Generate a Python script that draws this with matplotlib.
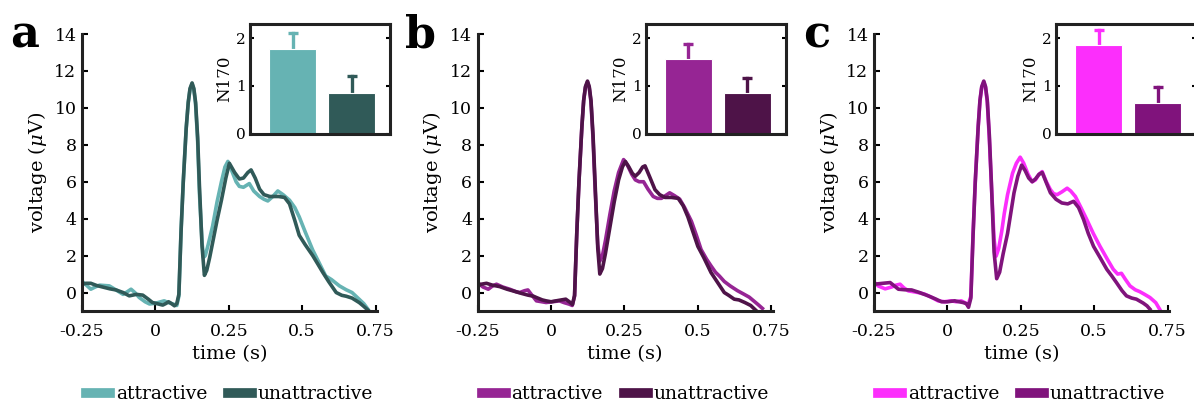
import matplotlib
matplotlib.use('Agg')
import matplotlib.pyplot as plt

plt.rcParams['font.family'] = 'DejaVu Serif'
plt.rcParams['mathtext.fontset'] = 'dejavuserif'
plt.rcParams['axes.unicode_minus'] = False

# ---- data ----
labels = ['attractive', 'unattractive']
panel_letters = ['a', 'b', 'c']

colors_a = ['#66b3b3', '#305a58']
colors_b = ['#962594', '#4e1348']
colors_c = ['#fc2efc', '#80137c']

# panel a, attractive
t_a_att = [-0.25, -0.235, -0.22, -0.205, -0.19, -0.157, -0.13, -0.11, -0.095, -0.083, -0.07, -0.055,
           -0.035, -0.02, 0.0, 0.03, 0.045, 0.06, 0.073, 0.08, 0.0875, 0.095, 0.105, 0.112, 0.118,
           0.125, 0.131, 0.137, 0.144, 0.15, 0.159, 0.164, 0.17, 0.18, 0.195, 0.21, 0.225, 0.237,
           0.247, 0.26, 0.275, 0.286, 0.3, 0.32, 0.335, 0.355, 0.37, 0.383, 0.4, 0.417, 0.435,
           0.457, 0.475, 0.49, 0.51, 0.536, 0.555, 0.58, 0.6, 0.627, 0.65, 0.67, 0.69, 0.71, 0.724]
v_a_att = [0.62, 0.4, 0.18, 0.3, 0.4, 0.36, 0.1, -0.1, 0.05, 0.18, 0.0, -0.27,
           -0.5, -0.62, -0.58, -0.45, -0.55, -0.62, -0.7, -0.2, 3.4, 6.0, 8.9, 10.3, 11.0,
           11.3, 11.0, 10.2, 8.2, 5.4, 2.7, 1.9, 2.0, 2.6, 3.6, 4.9, 6.0, 6.8,
           7.1, 6.6, 6.0, 5.75, 5.7, 5.9, 5.5, 5.2, 5.05, 4.96, 5.2, 5.5, 5.3,
           5.0, 4.6, 4.1, 3.3, 2.3, 1.7, 0.9, 0.7, 0.36, 0.15, 0.0, -0.3, -0.6, -0.9]

# panel a, unattractive
t_a_un = [-0.25, -0.235, -0.22, -0.2, -0.18, -0.155, -0.134, -0.11, -0.089, -0.065, -0.043, -0.025,
          -0.01, 0.01, 0.025, 0.035, 0.045, 0.055, 0.065, 0.073, 0.08, 0.0875, 0.095, 0.105, 0.112,
          0.118, 0.125, 0.131, 0.137, 0.144, 0.15, 0.159, 0.167, 0.175, 0.185, 0.195, 0.21, 0.225,
          0.24, 0.252, 0.27, 0.286, 0.3, 0.315, 0.326, 0.34, 0.355, 0.37, 0.39, 0.42, 0.44, 0.457,
          0.475, 0.49, 0.51, 0.536, 0.555, 0.57, 0.59, 0.616, 0.635, 0.65, 0.67, 0.695, 0.71, 0.724]
v_a_un = [0.45, 0.5, 0.5, 0.38, 0.3, 0.2, 0.14, 0.0, -0.18, -0.1, -0.14, -0.35,
          -0.54, -0.62, -0.68, -0.6, -0.5, -0.6, -0.72, -0.6, -0.1, 3.3, 6.0, 8.9, 10.3,
          11.05, 11.35, 11.05, 10.3, 8.4, 5.8, 2.5, 0.93, 1.2, 1.9, 2.7, 3.9, 5.0,
          6.2, 7.0, 6.5, 6.15, 6.2, 6.5, 6.64, 6.2, 5.6, 5.3, 5.2, 5.2, 5.15, 4.8,
          3.9, 3.1, 2.6, 2.0, 1.5, 1.1, 0.6, 0.0, -0.15, -0.2, -0.3, -0.55, -0.75, -0.95]

# panel b, attractive
t_b_att = [-0.25, -0.232, -0.214, -0.2, -0.186, -0.165, -0.141, -0.12, -0.107, -0.09, -0.079, -0.065,
           -0.05, -0.017, 0.005, 0.028, 0.045, 0.062, 0.072, 0.08, 0.0875, 0.095, 0.105, 0.111, 0.117,
           0.124, 0.13, 0.136, 0.143, 0.15, 0.159, 0.166, 0.175, 0.185, 0.2, 0.215, 0.23, 0.247,
           0.26, 0.275, 0.287, 0.3, 0.315, 0.33, 0.348, 0.362, 0.376, 0.39, 0.404, 0.42, 0.438,
           0.455, 0.478, 0.495, 0.511, 0.53, 0.545, 0.56, 0.573, 0.59, 0.61, 0.635, 0.657, 0.675,
           0.69, 0.705, 0.72]
v_b_att = [0.54, 0.3, 0.18, 0.35, 0.45, 0.3, 0.18, 0.05, 0.0, 0.1, 0.14, -0.15,
           -0.45, -0.54, -0.5, -0.45, -0.55, -0.63, -0.7, -0.2, 3.2, 6.0, 9.0, 10.4, 11.1,
           11.4, 11.1, 10.3, 8.3, 5.6, 2.6, 1.7, 2.0, 2.8, 4.2, 5.5, 6.5, 7.2,
           6.9, 6.4, 6.1, 6.0, 6.0, 5.6, 5.2, 5.1, 5.1, 5.25, 5.4, 5.25, 5.06,
           4.6, 3.86, 3.1, 2.33, 1.8, 1.44, 1.1, 0.9, 0.6, 0.36, 0.1, -0.09, -0.25,
           -0.45, -0.65, -0.86]

# panel b, unattractive
t_b_un = [-0.25, -0.238, -0.22, -0.2, -0.175, -0.15, -0.13, -0.1, -0.079, -0.06, -0.05, -0.03,
          -0.017, 0.0, 0.017, 0.035, 0.05, 0.062, 0.073, 0.08, 0.0875, 0.095, 0.105, 0.111, 0.117,
          0.124, 0.13, 0.136, 0.143, 0.15, 0.159, 0.166, 0.175, 0.185, 0.2, 0.215, 0.23, 0.243,
          0.253, 0.265, 0.277, 0.287, 0.3, 0.312, 0.32, 0.335, 0.354, 0.37, 0.388, 0.41, 0.433,
          0.45, 0.466, 0.483, 0.5, 0.52, 0.545, 0.565, 0.59, 0.605, 0.624, 0.64, 0.66, 0.68, 0.7]
v_b_un = [0.36, 0.45, 0.5, 0.4, 0.32, 0.18, 0.09, -0.05, -0.14, -0.2, -0.27, -0.4,
          -0.45, -0.5, -0.45, -0.4, -0.36, -0.5, -0.65, -0.15, 3.2, 6.0, 9.0, 10.4, 11.15,
          11.45, 11.15, 10.4, 8.5, 5.9, 2.4, 1.0, 1.3, 2.1, 3.5, 4.9, 6.1, 6.8,
          7.1, 6.8, 6.45, 6.3, 6.5, 6.8, 6.86, 6.3, 5.57, 5.3, 5.15, 5.15, 5.1,
          4.7, 4.1, 3.3, 2.5, 1.9, 1.08, 0.6, 0.0, -0.15, -0.36, -0.4, -0.54, -0.7, -1.0]

# panel c, attractive
t_c_att = [-0.25, -0.235, -0.212, -0.19, -0.175, -0.161, -0.148, -0.133, -0.1, -0.077, -0.055, -0.032,
           -0.01, 0.014, 0.03, 0.047, 0.06, 0.07, 0.08, 0.0875, 0.095, 0.105, 0.111, 0.117, 0.124,
           0.13, 0.136, 0.143, 0.15, 0.159, 0.166, 0.175, 0.185, 0.194, 0.205, 0.222, 0.235, 0.248,
           0.26, 0.275, 0.289, 0.3, 0.312, 0.323, 0.337, 0.351, 0.362, 0.374, 0.39, 0.408, 0.42,
           0.436, 0.455, 0.475, 0.497, 0.52, 0.545, 0.565, 0.58, 0.593, 0.607, 0.622, 0.64, 0.655,
           0.672, 0.69, 0.71, 0.723]
v_c_att = [0.57, 0.35, 0.2, 0.3, 0.4, 0.45, 0.25, 0.09, 0.0, -0.09, -0.25, -0.45,
           -0.5, -0.45, -0.5, -0.45, -0.55, -0.7, -0.2, 3.2, 6.0, 9.0, 10.4, 11.1, 11.4,
           11.1, 10.3, 8.3, 5.8, 2.9, 1.97, 2.4, 3.3, 4.3, 5.3, 6.46, 7.0, 7.33,
           7.0, 6.4, 6.0, 6.1, 6.4, 6.55, 6.0, 5.57, 5.35, 5.3, 5.45, 5.65, 5.5,
           5.2, 4.6, 3.95, 3.2, 2.5, 1.8, 1.26, 1.0, 1.04, 0.7, 0.36, 0.15, 0.05,
           -0.1, -0.27, -0.55, -0.9]

# panel c, unattractive
t_c_un = [-0.25, -0.22, -0.195, -0.18, -0.167, -0.145, -0.122, -0.095, -0.065, -0.04, -0.02, 0.0,
          0.025, 0.04, 0.053, 0.065, 0.072, 0.08, 0.0875, 0.095, 0.105, 0.111, 0.117, 0.124, 0.13,
          0.136, 0.143, 0.15, 0.159, 0.168, 0.178, 0.19, 0.205, 0.227, 0.24, 0.253, 0.265, 0.277,
          0.289, 0.3, 0.312, 0.323, 0.337, 0.351, 0.37, 0.39, 0.41, 0.43, 0.447, 0.464, 0.48,
          0.498, 0.52, 0.543, 0.56, 0.576, 0.595, 0.61, 0.628, 0.644, 0.667, 0.68, 0.69]
v_c_un = [0.45, 0.5, 0.54, 0.35, 0.18, 0.15, 0.14, 0.0, -0.18, -0.35, -0.5, -0.5,
          -0.45, -0.5, -0.54, -0.6, -0.8, -0.3, 3.1, 6.0, 9.0, 10.4, 11.15, 11.45, 11.15,
          10.4, 8.5, 5.9, 2.2, 0.75, 1.1, 2.1, 3.2, 5.4, 6.3, 6.9, 6.6, 6.2,
          6.0, 6.15, 6.4, 6.5, 5.95, 5.4, 5.05, 4.85, 4.8, 4.94, 4.6, 3.95, 3.2,
          2.5, 1.9, 1.26, 0.9, 0.54, 0.1, -0.18, -0.3, -0.36, -0.57, -0.72, -0.9]

# N170 bar insets: mean and upper error
n170_a = [1.77, 0.86]
err_a = [0.35, 0.35]
n170_b = [1.56, 0.86]
err_b = [0.31, 0.31]
n170_c = [1.85, 0.65]
err_c = [0.33, 0.33]

xticks = [-0.25, 0, 0.25, 0.5, 0.75]
xtick_labels = ['-0.25', '0', '0.25', '0.5', '0.75']
yticks = [0, 2, 4, 6, 8, 10, 12, 14]

W, H = 1194, 405
fig = plt.figure(figsize=(W / 100, H / 100), dpi=100)


def draw_panel(main_left, inset_left, letter, colors, curves, bars, errs):
    # main ERP axes (positions in pixels -> figure fractions)
    ax = fig.add_axes([main_left / W, (H - 311) / H, 295 / W, 277 / H])
    for (t, v), c, lab in zip(curves, colors, labels):
        ax.plot(t, v, color=c, lw=2.6, label=lab, solid_joinstyle='round')
    ax.set_xlim(-0.25, 0.755)
    ax.set_ylim(-1, 14)
    ax.set_xticks(xticks)
    ax.set_xticklabels(xtick_labels)
    ax.set_yticks(yticks)
    ax.tick_params(direction='in', length=4, width=1.5, labelsize=12.5)
    ax.tick_params(axis='x', pad=9)
    ax.tick_params(axis='y', pad=4)
    for s in ['top', 'right']:
        ax.spines[s].set_visible(False)
    for s in ['left', 'bottom']:
        ax.spines[s].set_linewidth(2.2)
        ax.spines[s].set_color('#222222')
    ax.set_xlabel('time (s)', fontsize=14, labelpad=3)
    ax.set_ylabel(r'voltage ($\mu$V)', fontsize=14, labelpad=4)
    ax.legend(loc='center', bbox_to_anchor=(0.5, -0.3), ncol=2, frameon=False,
              fontsize=13.5, handlelength=1.3, handletextpad=0.3, columnspacing=1.1)
    for line in ax.get_legend().get_lines():
        line.set_linewidth(7)

    fig.text((main_left - 57) / W, (H - 48) / H, letter, fontsize=32,
             fontweight='bold', ha='center', va='baseline')

    # inset bar chart with one-sided error bars
    ins = fig.add_axes([inset_left / W, (H - 133.5) / H, 140 / W, 109.5 / H])
    for i, (m, e, c) in enumerate(zip(bars, errs, colors)):
        ins.bar(i + 1, m, width=0.8, color=c, edgecolor='white', linewidth=0.8, zorder=2)
        ins.plot([i + 1, i + 1], [m, m + e], color=c, lw=2.4, zorder=1)
        ins.plot([i + 1], [m + e], marker='_', markersize=7, mew=2.4, color=c, zorder=1)
    ins.set_xlim(0.28, 2.65)
    ins.set_ylim(0, 2.3)
    ins.set_xticks([])
    ins.set_yticks([0, 1, 2])
    ins.tick_params(direction='in', length=3, width=1.5, labelsize=11, right=True, pad=3)
    for s in ins.spines.values():
        s.set_linewidth(2.2)
        s.set_color('#222222')
    ins.set_ylabel('N170', fontsize=12, labelpad=2)


draw_panel(82, 250, 'a', colors_a, [(t_a_att, v_a_att), (t_a_un, v_a_un)], n170_a, err_a)
draw_panel(477.7, 645.7, 'b', colors_b, [(t_b_att, v_b_att), (t_b_un, v_b_un)], n170_b, err_b)
draw_panel(874, 1056, 'c', colors_c, [(t_c_att, v_c_att), (t_c_un, v_c_un)], n170_c, err_c)

plt.savefig('out.png', dpi=100)
